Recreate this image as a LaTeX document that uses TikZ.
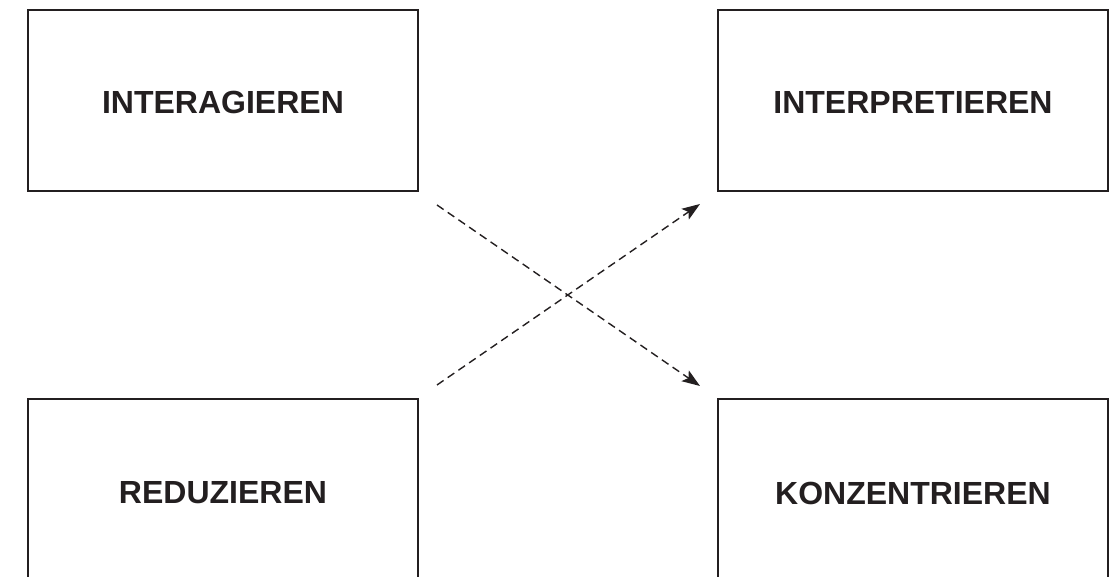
\documentclass[tikz,border=0pt]{standalone}
\usepackage{fontspec}
\setmainfont{Liberation Sans}
\usetikzlibrary{arrows.meta}
\definecolor{ink}{HTML}{231F20}
\tikzset{
  box/.style={draw=ink, line width=1.4pt, minimum width=390pt, minimum height=181pt, inner sep=0pt},
  label/.style={font=\fontsize{32}{36}\selectfont\bfseries, text=ink, inner sep=0pt},
  link/.style={draw=ink, line width=1.4pt, dash pattern=on 8pt off 5pt,
    -{Stealth[length=18pt,width=13pt,inset=4pt]}}
}
\begin{document}
\begin{tikzpicture}[x=1pt,y=1pt]
\useasboundingbox (0,0) rectangle (1120,577);
\clip (0,0) rectangle (1120,577);
\node[box] (inter) at (223,476.5) {};
\node[label] (intert) at (223,474.5) {INTERAGIEREN};
\node[box] (interp) at (913,476.5) {};
\node[label] (interpt) at (913,474.5) {INTERPRETIEREN};
\node[box, minimum height=186pt] (red) at (223,85) {};
\node[label] (redt) at (223,84) {REDUZIEREN};
\node[box, minimum height=186pt] (konz) at (913,85) {};
\node[label] (konzt) at (913,84) {KONZENTRIEREN};
\coordinate (fromInter) at (437,372);
\coordinate (toKonz) at (700,191);
\coordinate (fromRed) at (437,192);
\coordinate (toInterp) at (700,373);
\draw[link] (fromInter) -- (toKonz);
\draw[link] (fromRed) -- (toInterp);
\end{tikzpicture}
\end{document}
